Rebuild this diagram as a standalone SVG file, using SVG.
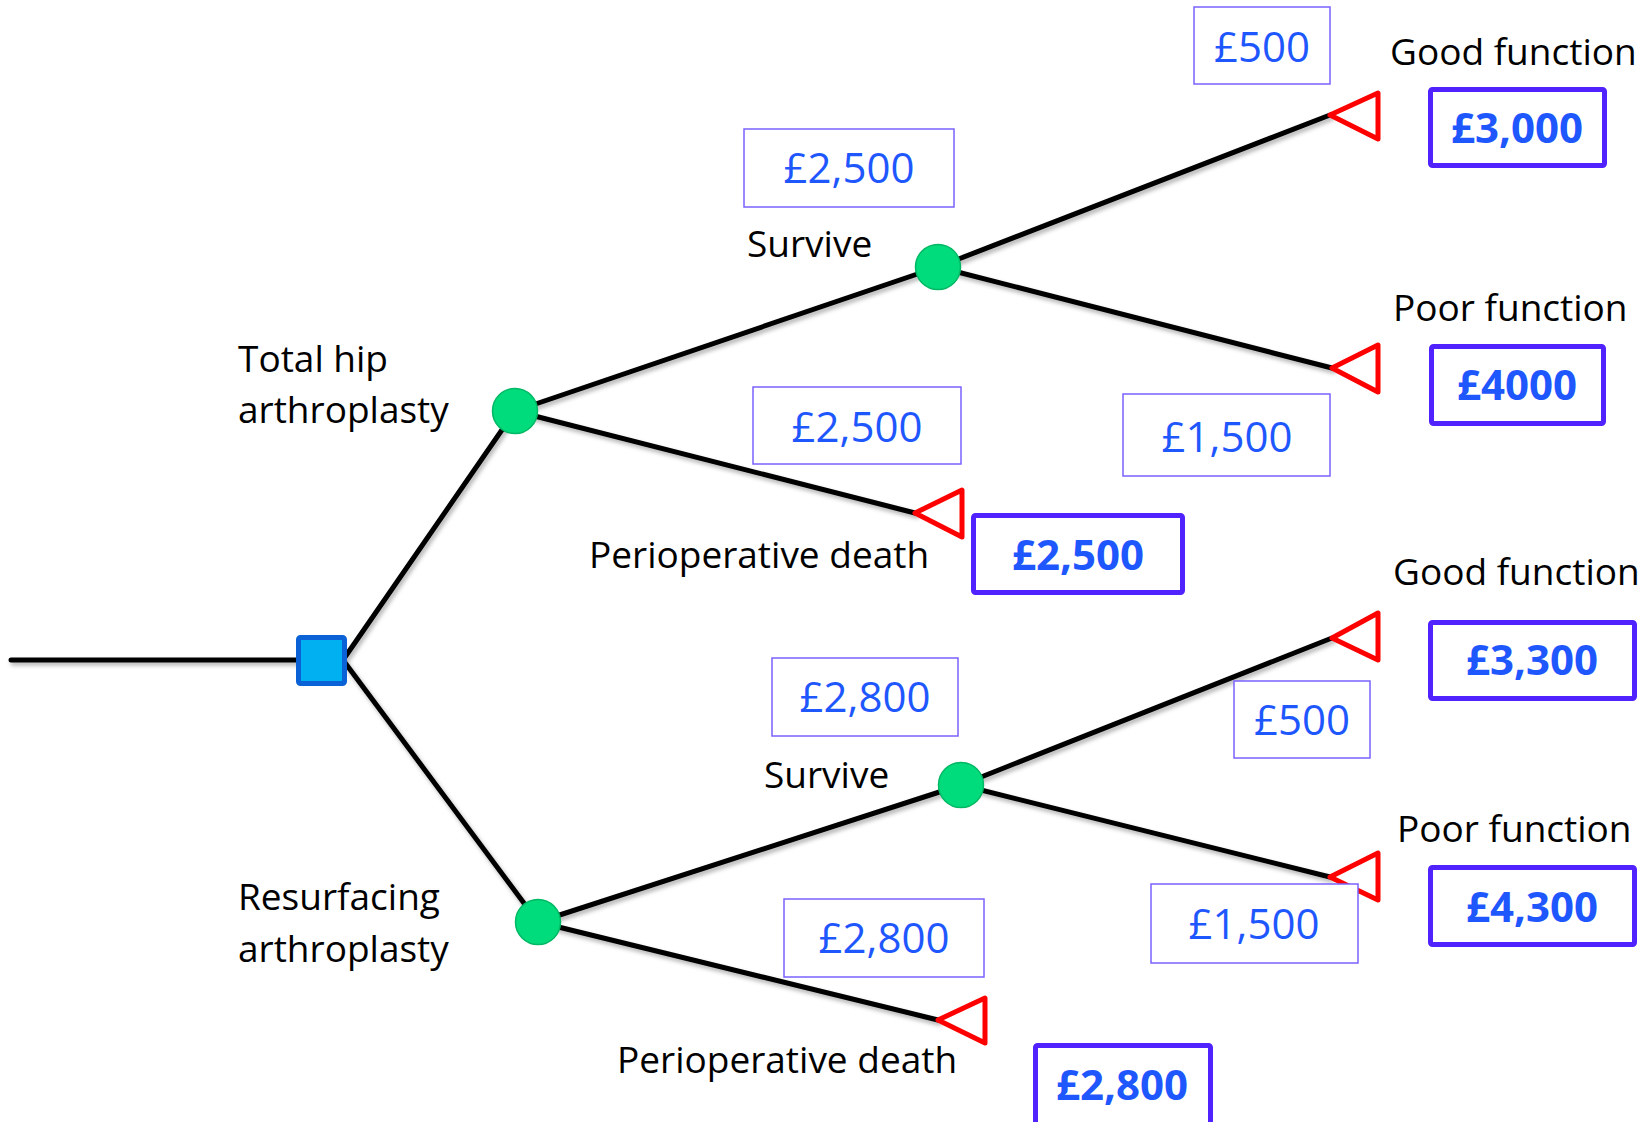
<svg xmlns="http://www.w3.org/2000/svg" width="1651" height="1122" viewBox="0 0 1651 1122">
  <style>
    .label { font-family: "Open Sans", "Liberation Sans", sans-serif; font-size: 37px; fill: #000; }
    .cost { font-family: "Open Sans", "Liberation Sans", sans-serif; font-size: 42px; fill: #1f57ff; text-anchor: middle; }
    .total { font-family: "Open Sans", "Liberation Sans", sans-serif; font-size: 42px; font-weight: bold; fill: #1f57ff; text-anchor: middle; }
    .costbox { fill: #fff; stroke: #7a62ff; stroke-width: 1.5; }
    .totalbox { fill: #fff; stroke: #4f22ff; stroke-width: 5; }
    .branch { stroke: #000; stroke-width: 5; fill: none; stroke-linecap: round; }
    .chance { fill: #00dc7c; stroke: #00b864; stroke-width: 1.5; }
    .decision { fill: #00b0f0; stroke: #0a62d6; stroke-width: 5; }
    .terminal { fill: #fff; stroke: #ff0000; stroke-width: 5; stroke-linejoin: round; }
  </style>
  <defs>
    <filter id="shadow" x="-10%" y="-10%" width="120%" height="130%">
      <feDropShadow dx="2" dy="3" stdDeviation="2" flood-color="#000" flood-opacity="0.3"/>
    </filter>
  </defs>

  <rect width="1651" height="1122" fill="#fff"/>

  <!-- branches of the tree -->
  <g id="connectors" filter="url(#shadow)">
    <line class="branch" x1="11" y1="660" x2="298" y2="660"/>
    <line class="branch" x1="343" y1="660" x2="515" y2="411"/>
    <line class="branch" x1="343" y1="660" x2="538" y2="922"/>
    <line class="branch" x1="515" y1="411" x2="938" y2="267"/>
    <line class="branch" x1="515" y1="411" x2="915" y2="513"/>
    <line class="branch" x1="938" y1="267" x2="1330" y2="115"/>
    <line class="branch" x1="938" y1="267" x2="1332" y2="368"/>
    <line class="branch" x1="538" y1="922" x2="961" y2="785"/>
    <line class="branch" x1="538" y1="922" x2="938" y2="1020"/>
    <line class="branch" x1="961" y1="785" x2="1332" y2="638"/>
    <line class="branch" x1="961" y1="785" x2="1330" y2="877"/>
  </g>

  <!-- decision node -->
  <g id="decision">
    <rect class="decision" x="298.5" y="637.5" width="46" height="46" rx="2"/>
  </g>

  <!-- chance nodes -->
  <g id="chance-tha">
    <circle class="chance" cx="515" cy="411" r="22.5"/>
  </g>
  <g id="chance-resurfacing">
    <circle class="chance" cx="538" cy="922" r="22.5"/>
  </g>
  <g id="chance-tha-survive">
    <circle class="chance" cx="938" cy="267" r="22.5"/>
  </g>
  <g id="chance-resurfacing-survive">
    <circle class="chance" cx="961" cy="785" r="22.5"/>
  </g>

  <!-- terminal nodes -->
  <g id="end-tha-good">
    <polygon class="terminal" points="1330,115 1378,93 1378,139"/>
  </g>
  <g id="end-tha-poor">
    <polygon class="terminal" points="1332,368 1378,345 1378,392"/>
  </g>
  <g id="end-tha-death">
    <polygon class="terminal" points="915,513 962,490 962,537"/>
  </g>
  <g id="end-resurfacing-good">
    <polygon class="terminal" points="1332,638 1378,613 1378,660"/>
  </g>
  <g id="end-resurfacing-poor">
    <polygon class="terminal" points="1330,877 1378,853 1378,900"/>
  </g>
  <g id="end-resurfacing-death">
    <polygon class="terminal" points="938,1020 985,998 985,1043"/>
  </g>

  <!-- branch labels -->
  <g id="labels">
    <text class="label" x="238" y="372">Total hip</text>
    <text class="label" x="238" y="423">arthroplasty</text>
    <text class="label" x="238" y="910">Resurfacing</text>
    <text class="label" x="238" y="962">arthroplasty</text>
    <text class="label" x="747" y="257">Survive</text>
    <text class="label" x="764" y="788">Survive</text>
    <text class="label" x="589" y="568">Perioperative death</text>
    <text class="label" x="617" y="1073">Perioperative death</text>
    <text class="label" x="1390" y="65">Good function</text>
    <text class="label" x="1393" y="321">Poor function</text>
    <text class="label" x="1393" y="585">Good function</text>
    <text class="label" x="1397" y="842">Poor function</text>
  </g>

  <!-- branch costs -->
  <g id="cost-tha-good">
    <rect class="costbox" x="1194" y="7" width="136" height="77"/>
    <text class="cost" x="1262" y="62">£500</text>
  </g>
  <g id="cost-tha-survive">
    <rect class="costbox" x="744" y="129" width="210" height="78"/>
    <text class="cost" x="849" y="183">£2,500</text>
  </g>
  <g id="cost-tha-death">
    <rect class="costbox" x="753" y="387" width="208" height="77"/>
    <text class="cost" x="857" y="442">£2,500</text>
  </g>
  <g id="cost-tha-poor">
    <rect class="costbox" x="1123" y="394" width="207" height="82"/>
    <text class="cost" x="1227" y="452">£1,500</text>
  </g>
  <g id="cost-resurfacing-survive">
    <rect class="costbox" x="772" y="658" width="186" height="78"/>
    <text class="cost" x="865" y="712">£2,800</text>
  </g>
  <g id="cost-resurfacing-good">
    <rect class="costbox" x="1234" y="681" width="136" height="77"/>
    <text class="cost" x="1302" y="735">£500</text>
  </g>
  <g id="cost-resurfacing-poor">
    <rect class="costbox" x="1151" y="884" width="207" height="79"/>
    <text class="cost" x="1254" y="939">£1,500</text>
  </g>
  <g id="cost-resurfacing-death">
    <rect class="costbox" x="784" y="899" width="200" height="78"/>
    <text class="cost" x="884" y="953">£2,800</text>
  </g>

  <!-- pathway totals -->
  <g id="total-tha-good">
    <rect class="totalbox" x="1430.5" y="89.5" width="174" height="76" rx="2"/>
    <text class="total" x="1517" y="143">£3,000</text>
  </g>
  <g id="total-tha-poor">
    <rect class="totalbox" x="1431.5" y="346.5" width="172" height="77" rx="2"/>
    <text class="total" x="1517" y="400">£4000</text>
  </g>
  <g id="total-tha-death">
    <rect class="totalbox" x="973.5" y="515.5" width="209" height="77" rx="2"/>
    <text class="total" x="1078" y="570">£2,500</text>
  </g>
  <g id="total-resurfacing-good">
    <rect class="totalbox" x="1430.5" y="622.5" width="204" height="76" rx="2"/>
    <text class="total" x="1532" y="675">£3,300</text>
  </g>
  <g id="total-resurfacing-poor">
    <rect class="totalbox" x="1430.5" y="867.5" width="204" height="77" rx="2"/>
    <text class="total" x="1532" y="922">£4,300</text>
  </g>
  <g id="total-resurfacing-death">
    <rect class="totalbox" x="1035.5" y="1045.5" width="175" height="90" rx="2"/>
    <text class="total" x="1122" y="1100">£2,800</text>
  </g>
</svg>
